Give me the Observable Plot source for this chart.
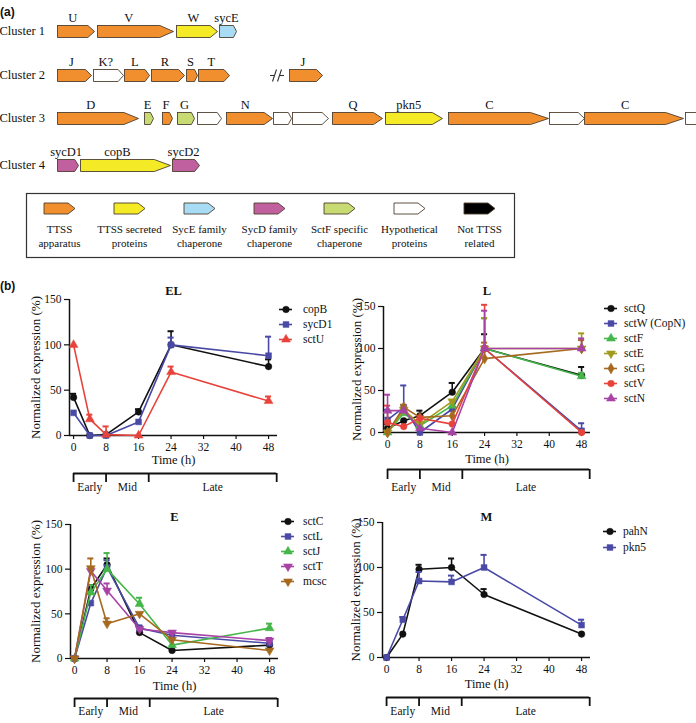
<!DOCTYPE html>
<html>
<head>
<meta charset="utf-8">
<script src="https://cdn.jsdelivr.net/npm/d3@7"></script>
<script src="https://cdn.jsdelivr.net/npm/@observablehq/plot@0.6"></script>
<style>
  body { margin: 0; background: #fff; }
  #fig { position: relative; width: 696px; height: 723px; overflow: hidden; font-family: "Liberation Serif", "Times New Roman", serif; color: #111; }
  .abs { position: absolute; }
  .abs svg { display: block; overflow: visible; max-width: none !important; font-family: "Liberation Serif", "Times New Roman", serif !important; }
  .tag { position: absolute; font-family: "Liberation Sans", Arial, sans-serif; font-weight: bold; font-size: 12px; line-height: 12px; }
</style>
</head>
<body>
<div id="fig">
  <div class="tag" style="left:0px;top:6px">(a)</div>
  <div class="tag" style="left:0px;top:280px">(b)</div>
</div>
<script>
// ---------- (a) gene clusters: [label, start, end, class] ----------
const clusterNames = ["Cluster 1", "Cluster 2", "Cluster 3", "Cluster 4"];
const cluster1 = [["U", 57, 94, "app"], ["V", 97, 173, "app"], ["W", 176, 217, "sec"], ["sycE", 219, 236, "sycE"]];
const cluster2 = [["J", 57, 91, "app"], ["K?", 93, 123, "hyp"], ["L", 124, 149, "app"], ["R", 151, 184, "app"],
                  ["S", 186, 197, "app"], ["T", 198, 229, "app"], ["J", 289, 322, "app"]];
const cluster3 = [["D", 57, 138, "app"], ["E", 144, 153, "sctF"], ["F", 162, 172, "app"], ["G", 177, 194, "sctF"],
                  ["", 197, 221, "hyp"], ["N", 226, 272, "app"], ["", 273, 291, "hyp"], ["", 292, 328, "hyp"],
                  ["Q", 332, 382, "app"], ["pkn5", 385, 442, "sec"], ["C", 448, 548, "app"], ["", 549, 584, "hyp"],
                  ["C", 584, 683, "app"], ["", 685, 722, "hyp"]];
const cluster4 = [["sycD1", 57, 78, "sycD"], ["copB", 80, 170, "sec"], ["sycD2", 172, 199, "sycD"]];
const clusterBreaks = [[1, 276.5]];   // [cluster index, map position of the discontinuity]

const geneClasses = ["app", "sec", "sycE", "sycD", "sctF", "hyp", "other"];
const geneClassLabels = ["TTSS\napparatus", "TTSS secreted\nproteins", "SycE family\nchaperone", "SycD family\nchaperone",
                         "SctF specific\nchaperone", "Hypothetical\nproteins", "Not TTSS\nrelated"];

// ---------- (b) qRT-PCR time courses ----------
const times = [0, 4, 8, 16, 24, 48];
const xTicks = [0, 8, 16, 24, 32, 40, 48];
const yTicks = [0, 50, 100, 150];
const phaseBounds = [0, 8, 18.5, 50];
const phaseNames = ["Early", "Mid", "Late"];

// EL
const copB   = [42, 0, 1, 26, 100, 76],   copB_err   = [4, 0, 0, 3, 15, 8];
const sycD1  = [25, 0, 0, 15, 100, 88],   sycD1_err  = [0, 0, 0, 0, 8, 21];
const sctU   = [100, 18, 1, 0, 70, 38],   sctU_err   = [0, 5, 9, 0, 6, 5];
// L
const sctQ   = [5, 14, 20, 48, 100, 68],  sctQ_err   = [5, 0, 6, 11, 17, 10];
const sctW   = [15, 30, 0, 28, 100, 2],   sctW_err   = [12, 26, 0, 0, 0, 9];
const sctF   = [0, 23, 8, 32, 100, 67],   sctF_err   = [0, 0, 0, 0, 36, 4];
const sctE   = [0, 27, 10, 37, 100, 100], sctE_err   = [0, 0, 0, 0, 36, 18];
const sctG   = [0, 30, 18, 20, 88, 100],  sctG_err   = [0, 3, 0, 0, 19, 10];
const sctV   = [12, 7, 17, 10, 100, 0],   sctV_err   = [20, 0, 0, 0, 52, 0];
const sctN   = [26, 26, 5, 0, 100, 100],  sctN_err   = [19, 0, 0, 0, 45, 12];
// E
const sctC   = [0, 78, 105, 29, 9, 15],   sctC_err   = [0, 4, 7, 0, 0, 0];
const sctL   = [0, 62, 102, 34, 26, 17],  sctL_err   = [0, 0, 8, 3, 0, 0];
const sctJ   = [0, 74, 100, 61, 15, 34],  sctJ_err   = [0, 8, 18, 7, 0, 5];
const sctT   = [0, 98, 76, 33, 29, 20],   sctT_err   = [0, 0, 8, 0, 0, 3];
const mcsc   = [0, 101, 39, 50, 21, 9],   mcsc_err   = [0, 11, 6, 0, 0, 0];
// M
const pahN   = [0, 26, 98, 100, 70, 26],  pahN_err   = [0, 0, 5, 10, 6, 0];
const pkn5   = [0, 42, 85, 84, 100, 36],  pkn5_err   = [0, 3, 10, 7, 14, 6];

// ---------- styling ----------
const SERIF = "'Liberation Serif', 'Times New Roman', serif";
const classColor = {app: "#F18E2D", sec: "#F4EA26", sycE: "#A7DCF4", sycD: "#C1609F", sctF: "#C8DB72", hyp: "#ffffff", other: "#000000"};
const geneStroke = "#4d3f30";

const triangleDown = {
  draw(context, size) {
    const s3 = Math.sqrt(3);
    const y = -Math.sqrt(size / (s3 * 3));
    context.moveTo(0, -y * 2);
    context.lineTo(-s3 * y, y);
    context.lineTo(s3 * y, y);
    context.closePath();
  }
};
const legendArrow = {
  draw(context) {
    context.moveTo(-15.5, -5.5); context.lineTo(8.5, -5.5); context.lineTo(15.5, 0);
    context.lineTo(8.5, 5.5); context.lineTo(-15.5, 5.5); context.closePath();
  }
};

const fig = document.getElementById("fig");
function place(node, left, top) {
  const d = document.createElement("div");
  d.className = "abs";
  d.style.left = left + "px";
  d.style.top = top + "px";
  d.appendChild(node);
  fig.appendChild(d);
}

// ---------- (a) gene map ----------
const rowY = [31, 75, 118, 165];
const clusters = [cluster1, cluster2, cluster3, cluster4];
const tipOf = g => Math.max(3, (g.end - g.start) * 0.18);
const genes = clusters.flatMap((c, ci) => c.map(([label, start, end, cls], gi) => ({id: ci + "-" + gi, ci, label, start, end, cls})));
const arrowPoints = genes.flatMap(g => {
  const yc = rowY[g.ci], h = 6;
  const b = g.end - tipOf(g);
  return [[g.start, yc - h], [b, yc - h], [g.end, yc], [b, yc + h], [g.start, yc + h], [g.start, yc - h]]
    .map(([x, y]) => ({id: g.id, x, y, fill: classColor[g.cls]}));
});
const geneLabels = genes.filter(g => g.label).map(g => ({
  label: g.label,
  x: (g.start + g.end - tipOf(g)) / 2,
  y: rowY[g.ci] - 14
}));
const breakSegs = clusterBreaks.flatMap(([ci, b]) => {
  const y = rowY[ci];
  return [
    {x1: b - 7, y1: y, x2: b - 2.5, y2: y},
    {x1: b + 2.5, y1: y, x2: b + 7, y2: y},
    {x1: b - 4.5, y1: y + 6, x2: b - 0.5, y2: y - 6},
    {x1: b + 0.5, y1: y + 6, x2: b + 4.5, y2: y - 6}
  ];
});

place(Plot.plot({
  width: 696, height: 185,
  margin: 0,
  x: {domain: [0, 696], range: [0, 696], axis: null},
  y: {domain: [0, 185], range: [0, 185], axis: null},
  color: {type: "identity"},
  style: {fontFamily: SERIF, fontSize: "12px", background: "transparent", overflow: "visible"},
  marks: [
    Plot.line(arrowPoints, {x: "x", y: "y", z: "id", fill: "fill", stroke: geneStroke, strokeWidth: 0.9,
                            strokeLinejoin: "miter", strokeMiterlimit: 4, curve: "linear"}),
    Plot.text(geneLabels, {x: "x", y: "y", text: "label", fontSize: 12.5, fontFamily: SERIF}),
    Plot.text(clusterNames, {frameAnchor: "left", dx: -1, y: (d, i) => rowY[i] - 1, text: d => d, textAnchor: "start", fontSize: 12.5, fontFamily: SERIF}),
    Plot.link(breakSegs, {x1: "x1", y1: "y1", x2: "x2", y2: "y2", stroke: "#333", strokeWidth: 1.1})
  ]
}), 0, 0);

// ---------- (a) class legend ----------
place(Plot.plot({
  width: 488, height: 64,
  margin: 0,
  x: {type: "point", domain: geneClasses, range: [30, 455], padding: 0, axis: null},
  style: {fontFamily: SERIF, fontSize: "10.5px", background: "transparent", overflow: "visible"},
  marks: [
    Plot.frame({stroke: "#333", strokeWidth: 1.2}),
    Plot.dot(geneClasses, {x: d => d, dy: -17, symbol: legendArrow, fill: d => classColor[d], stroke: geneStroke, strokeWidth: 0.9}),
    Plot.text(geneClasses, {x: d => d, dy: 10, text: (d, i) => geneClassLabels[i], lineHeight: 1.3, fontSize: 11, fontFamily: SERIF})
  ]
}), 26, 193);

// ---------- (b) panels ----------
function S(name, values, errors, color, symbol) { return {name, values, errors, color, symbol}; }
const BLACK = "#111111", BLUE = "#4a4aa6", RED = "#e8433b", GREEN = "#45b649", OLIVE = "#a29a1c",
      BROWN = "#a5691f", MAGENTA = "#a843a6";

const panels = [
  {title: "EL", col: 0, frame: {left: 69, right: 277, top: 299, bottom: 435}, titleDy: -13, timeDy: 28, yLabelDx: -34,
   bracket: {line: 473, tick: 482, labelDy: 8},
   legend: {marker: 285, first: 308, step: 15.5, textOff: 17},
   series: [S("copB", copB, copB_err, BLACK, "circle"), S("sycD1", sycD1, sycD1_err, BLUE, "square"),
            S("sctU", sctU, sctU_err, RED, "triangle")]},
  {title: "L", col: 340, frame: {left: 383, right: 590, top: 306, bottom: 432}, titleDy: -20, timeDy: 30, yLabelDx: -27,
   bracket: {line: 469, tick: 479, labelDy: 11},
   legend: {marker: 610, first: 307, step: 15.3, textOff: 13},
   series: [S("sctQ", sctQ, sctQ_err, BLACK, "circle"), S("sctW (CopN)", sctW, sctW_err, BLUE, "square"),
            S("sctF", sctF, sctF_err, GREEN, "triangle"), S("sctE", sctE, sctE_err, OLIVE, triangleDown),
            S("sctG", sctG, sctG_err, BROWN, "diamond"), S("sctV", sctV, sctV_err, RED, "circle"),
            S("sctN", sctN, sctN_err, MAGENTA, "triangle")]},
  {title: "E", col: 0, frame: {left: 70, right: 278, top: 524, bottom: 658}, titleDy: -12, timeDy: 31, yLabelDx: -35,
   bracket: {line: 698, tick: 707, labelDy: 7},
   legend: {marker: 287, first: 521, step: 15, textOff: 15},
   series: [S("sctC", sctC, sctC_err, BLACK, "circle"), S("sctL", sctL, sctL_err, BLUE, "square"),
            S("sctJ", sctJ, sctJ_err, GREEN, "triangle"), S("sctT", sctT, sctT_err, MAGENTA, triangleDown),
            S("mcsc", mcsc, mcsc_err, BROWN, triangleDown)]},
  {title: "M", col: 340, frame: {left: 382, right: 590, top: 522, bottom: 657}, titleDy: -10, timeDy: 30, yLabelDx: -27,
   bracket: {line: 697, tick: 706, labelDy: 8},
   legend: {marker: 609, first: 531, step: 16, textOff: 13},
   series: [S("pahN", pahN, pahN_err, BLACK, "circle"), S("pkn5", pkn5, pkn5_err, BLUE, "square")]}
];

const XDOMAIN = [-1, 50.2];
const YDOMAIN = [0, 150];

for (const p of panels) {
  const f = p.frame;
  const marginTop = 24, marginBottom = 40, marginRight = 8;
  const marginLeft = f.left - p.col;
  const width = f.right - p.col + marginRight;
  const height = marginTop + (f.bottom - f.top) + marginBottom;
  const rowsOf = s => times.map((t, i) => ({t, v: s.values[i], e: s.errors[i]}));
  const marks = [
    Plot.ruleX([XDOMAIN[0]], {stroke: "#111", strokeWidth: 1.5}),
    Plot.ruleY([0], {stroke: "#111", strokeWidth: 1.5}),
    Plot.axisX({ticks: xTicks, tickSize: 4, tickPadding: 3, label: null, fontSize: 11.5, strokeWidth: 1.2, fontFamily: SERIF}),
    Plot.axisY({ticks: yTicks, tickSize: 5, tickPadding: 3, label: null, fontSize: 11.5, strokeWidth: 1.2, fontFamily: SERIF}),
    Plot.text([p.title], {frameAnchor: "top", dy: p.titleDy, text: d => d, fontWeight: "bold", fontSize: 12.5, fontFamily: SERIF}),
    Plot.text(["Time (h)"], {frameAnchor: "bottom", dy: p.timeDy, text: d => d, fontSize: 12.5, fontFamily: SERIF}),
    Plot.text(["Normalized expression (%)"], {x: XDOMAIN[0], y: (YDOMAIN[0] + YDOMAIN[1]) / 2, dx: p.yLabelDx, rotate: -90,
                                              text: d => d, fontSize: 13, fontFamily: SERIF})
  ];
  for (const s of p.series) {
    const rows = rowsOf(s);
    const errs = rows.filter(d => d.e > 0);
    marks.push(
      Plot.ruleX(errs, {x: "t", y1: "v", y2: d => d.v + d.e, stroke: s.color, strokeWidth: 1.6}),
      Plot.ruleY(errs, {y: d => d.v + d.e, x1: d => d.t - 0.75, x2: d => d.t + 0.75, stroke: s.color, strokeWidth: 2}),
      Plot.line(rows, {x: "t", y: "v", stroke: s.color, strokeWidth: 1.6}),
      Plot.dot(rows, {x: "t", y: "v", symbol: s.symbol, r: 3.3, fill: s.color, stroke: s.color, strokeWidth: 0.5})
    );
  }
  place(Plot.plot({
    width, height, marginTop, marginBottom, marginLeft, marginRight,
    x: {domain: XDOMAIN},
    y: {domain: YDOMAIN},
    style: {fontFamily: SERIF, fontSize: "11.5px", background: "transparent", overflow: "visible", color: "#111"},
    marks
  }), p.col, f.top - marginTop);

  // growth phase bracket below the time axis
  const b = p.bracket;
  const bTop = 2, bBottom = 16;
  place(Plot.plot({
    width, height: bTop + (b.tick - b.line) + bBottom,
    marginTop: bTop, marginBottom: bBottom, marginLeft, marginRight,
    x: {domain: XDOMAIN, axis: null},
    y: {domain: [0, 1], range: [bTop, bTop + (b.tick - b.line)], axis: null},
    style: {fontFamily: SERIF, fontSize: "11.5px", background: "transparent", overflow: "visible", color: "#111"},
    marks: [
      Plot.ruleY([0], {x1: phaseBounds[0], x2: phaseBounds[phaseBounds.length - 1], stroke: "#111", strokeWidth: 1.8}),
      Plot.ruleX(phaseBounds, {y1: 0, y2: 1, stroke: "#111", strokeWidth: 1.8}),
      Plot.text(phaseNames, {x: (d, i) => (phaseBounds[i] + phaseBounds[i + 1]) / 2, frameAnchor: "bottom", dy: b.labelDy,
                             text: d => d, fontSize: 11.5, fontFamily: SERIF})
    ]
  }), p.col, b.line - bTop);

  // series legend
  const L = p.legend;
  const names = p.series.map(s => s.name);
  const lg = [];
  for (const s of p.series) {
    lg.push(
      Plot.ruleY([s.name], {y: d => d, x1: 1, x2: 14, stroke: s.color, strokeWidth: 1.6}),
      Plot.dot([s.name], {x: 7.5, y: d => d, symbol: s.symbol, r: 3.3, fill: s.color, stroke: s.color, strokeWidth: 0.5}),
      Plot.text([s.name], {x: 7.5 + L.textOff, y: d => d, text: d => d, textAnchor: "start", fontSize: 11.5, fontFamily: SERIF})
    );
  }
  place(Plot.plot({
    width: 110, height: 16 + L.step * (names.length - 1),
    margin: 0,
    x: {domain: [0, 110], range: [0, 110], axis: null},
    y: {type: "point", domain: names, range: [8, 8 + L.step * (names.length - 1)], padding: 0, axis: null},
    style: {fontFamily: SERIF, fontSize: "11.5px", background: "transparent", overflow: "visible", color: "#111"},
    marks: lg
  }), L.marker - 7.5, L.first - 8);
}
</script>
</body>
</html>
